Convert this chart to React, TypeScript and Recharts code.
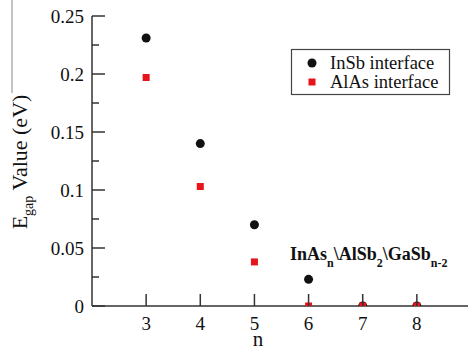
import React from 'react';
import { ScatterChart, Scatter, XAxis, YAxis, Customized } from 'recharts';

const nValues = [3, 4, 5, 6, 7, 8];
const insbValues = [0.231, 0.14, 0.07, 0.023, 0, 0];
const alasValues = [0.197, 0.103, 0.038, 0, 0, 0];
const xTicks = [3, 4, 5, 6, 7, 8];
const yTicks = [0, 0.025, 0.05, 0.075, 0.1, 0.125, 0.15, 0.175, 0.2, 0.225, 0.25];
const yTickLabels = ['0', '', '0.05', '', '0.1', '', '0.15', '', '0.2', '', '0.25'];
const seriesNames = ['InSb interface', 'AlAs interface'];

const insbData = nValues.map((n, i) => ({ n, v: insbValues[i] }));
const alasData = nValues.map((n, i) => ({ n, v: alasValues[i] }));

const FONT = '"Liberation Serif", "Times New Roman", serif';
const AX = '#333';
const RED = '#e8141c';

const BottomTick = (p: any) => {
  const { x, y, payload } = p;
  return (
    <g>
      <line x1={x} y1={y} x2={x} y2={y - 12} stroke={AX} strokeWidth={1.5} />
      <text x={x} y={y + 24} textAnchor="middle" fontSize={19} fontFamily={FONT} fill="#111">
        {payload.value}
      </text>
    </g>
  );
};

const TopTick = (p: any) => {
  const { x, y } = p;
  return <line x1={x} y1={y} x2={x} y2={y + 12} stroke={AX} strokeWidth={1.5} />;
};

const LeftTick = (p: any) => {
  const { x, y, index } = p;
  const major = index % 2 === 0;
  return (
    <g>
      <line x1={x} y1={y} x2={x + (major ? 13 : 7)} y2={y} stroke={AX} strokeWidth={1.5} />
      {major && (
        <text x={x - 8} y={y} dy="0.35em" textAnchor="end" fontSize={19} fontFamily={FONT} fill="#111">
          {yTickLabels[index]}
        </text>
      )}
    </g>
  );
};

const RightTick = (p: any) => {
  const { x, y, index } = p;
  const major = index % 2 === 0;
  return <line x1={x} y1={y} x2={x - (major ? 13 : 7)} y2={y} stroke={AX} strokeWidth={1.5} />;
};

const YLabel = (p: any) => {
  const vb = p.viewBox || { x: 0, y: 16, width: 92, height: 290 };
  const cx = vb.x + 27;
  const cy = vb.y + vb.height / 2 + 1;
  return (
    <text
      x={cx}
      y={cy}
      transform={`rotate(-90, ${cx}, ${cy})`}
      textAnchor="middle"
      fontFamily={FONT}
      fill="#111"
      fontSize={22}
    >
      <tspan>E</tspan>
      <tspan fontSize={14} dy={6}>gap</tspan>
      <tspan dy={-6}>{' Value (eV)'}</tspan>
    </text>
  );
};

const XLabel = (p: any) => {
  const vb = p.viewBox || { x: 92, y: 306, width: 379, height: 42 };
  return (
    <text x={vb.x + 166} y={vb.y + 40} textAnchor="middle" fontSize={21} fontFamily={FONT} fill="#111">
      n
    </text>
  );
};

const Dot = (p: any) => <circle cx={p.cx} cy={p.cy} r={4.5} fill="#111" />;
const Sq = (p: any) => <rect x={p.cx - 3.5} y={p.cy - 3.5} width={7} height={7} fill={RED} />;

const Overlay = () => (
  <g>
    <rect x={291.5} y={49.5} width={158} height={45} fill="#fff" stroke="#444" strokeWidth={1.2} />
    <circle cx={312} cy={63} r={4.5} fill="#111" />
    <rect x={308.5} y={78.5} width={7} height={7} fill={RED} />
    <text x={330} y={69} fontFamily={FONT} fontSize={18.5} fill="#111">{seriesNames[0]}</text>
    <text x={330} y={88} fontFamily={FONT} fontSize={18.5} fill="#111">{seriesNames[1]}</text>
    <text x={290} y={260} fontFamily={FONT} fontWeight="bold" fontSize={18} fill="#111">
      <tspan>InAs</tspan>
      <tspan fontSize={12} dy={7}>n</tspan>
      <tspan dy={-7}>\AlSb</tspan>
      <tspan fontSize={12} dy={7}>2</tspan>
      <tspan dy={-7}>\GaSb</tspan>
      <tspan fontSize={12} dy={7}>n-2</tspan>
    </text>
    <line x1={12} y1={0} x2={12} y2={93} stroke="#888" strokeWidth={1} />
  </g>
);

export default function App() {
  return (
    <div style={{ position: 'absolute', left: 0, top: 0, width: 468, height: 348, background: '#fff', overflow: 'hidden' }}>
      <ScatterChart width={468} height={348} margin={{ top: 16, right: -3, bottom: 0, left: 0 }}>
        <XAxis
          xAxisId="b"
          dataKey="n"
          type="number"
          domain={[2, 9]}
          ticks={xTicks}
          tickSize={0}
          tickMargin={0}
          tickLine={false}
          tick={<BottomTick />}
          height={42}
          axisLine={{ stroke: AX, strokeWidth: 1.5 }}
          label={<XLabel />}
          allowDataOverflow
        />
        <XAxis
          xAxisId="t"
          orientation="top"
          type="number"
          domain={[2, 9]}
          ticks={xTicks}
          tickSize={0}
          tickMargin={0}
          tickLine={false}
          tick={<TopTick />}
          height={0}
          axisLine={{ stroke: AX, strokeWidth: 1.5 }}
          allowDataOverflow
        />
        <YAxis
          yAxisId="l"
          dataKey="v"
          type="number"
          domain={[0, 0.25]}
          ticks={yTicks}
          interval={0}
          tickSize={0}
          tickMargin={0}
          tickLine={false}
          tick={<LeftTick />}
          width={92}
          axisLine={{ stroke: AX, strokeWidth: 1.5 }}
          label={<YLabel />}
          allowDataOverflow
        />
        <YAxis
          yAxisId="r"
          orientation="right"
          type="number"
          domain={[0, 0.25]}
          ticks={yTicks}
          interval={0}
          tickSize={0}
          tickMargin={0}
          tickLine={false}
          tick={<RightTick />}
          width={0}
          axisLine={{ stroke: AX, strokeWidth: 1.5 }}
          allowDataOverflow
        />
        <Scatter name={seriesNames[0]} data={insbData} xAxisId="b" yAxisId="l" dataKey="v" shape={<Dot />} isAnimationActive={false} />
        <Scatter name={seriesNames[1]} data={alasData} xAxisId="b" yAxisId="l" dataKey="v" shape={<Sq />} isAnimationActive={false} />
        <Customized component={<Overlay />} />
      </ScatterChart>
    </div>
  );
}
